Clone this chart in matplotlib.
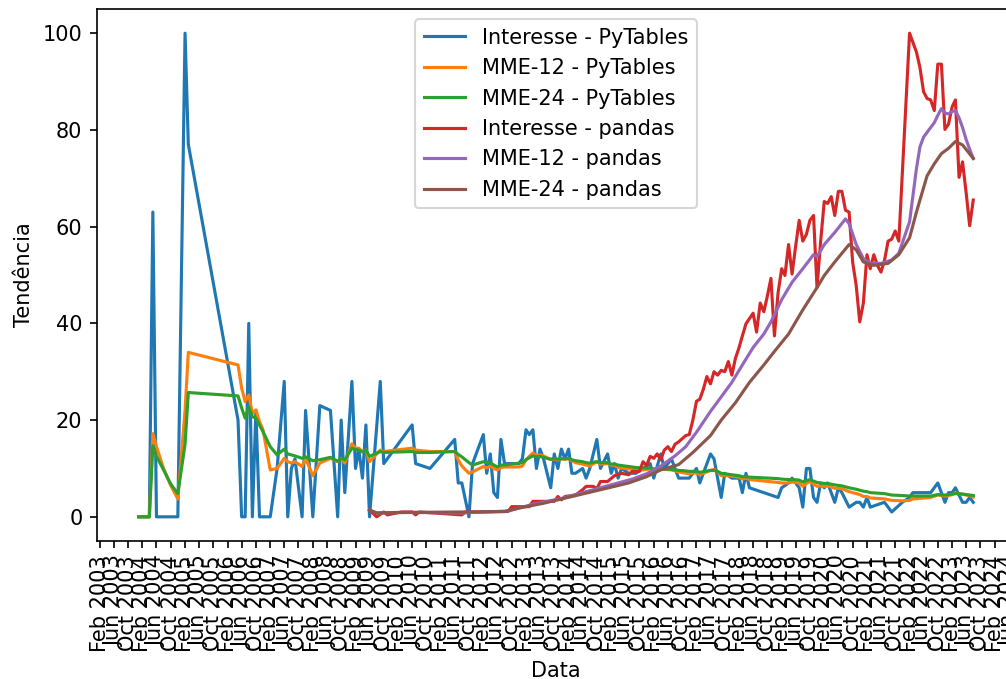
import pandas as pd
import matplotlib
matplotlib.use("Agg")
import matplotlib.pyplot as plt
import matplotlib.dates as mdates

# --- Interesse PyTables (Google Trends) ---
pytables_datas = [
    "2004-01", "2004-02", "2004-03", "2004-04", "2004-05", "2004-06", "2004-07", "2004-08",
    "2004-09", "2004-10", "2004-11", "2004-12",
    "2005-02", "2005-03",
    "2006-05", "2006-06", "2006-07", "2006-08", "2006-09", "2006-10", "2006-11", "2006-12",
    "2007-01", "2007-02", "2007-04", "2007-06", "2007-07", "2007-08", "2007-09", "2007-11", "2007-12",
    "2008-02", "2008-04", "2008-07", "2008-09", "2008-10", "2008-11",
    "2009-01", "2009-02", "2009-03", "2009-04", "2009-05", "2009-06", "2009-09", "2009-10",
    "2010-06", "2010-07", "2010-11",
    "2011-06", "2011-07", "2011-08", "2011-10", "2011-11",
    "2012-02", "2012-03", "2012-04", "2012-05", "2012-06", "2012-07", "2012-08", "2012-12",
    "2013-01", "2013-02", "2013-03", "2013-04", "2013-05", "2013-06", "2013-07", "2013-09",
    "2013-10", "2013-11", "2013-12",
    "2014-01", "2014-02", "2014-03", "2014-04", "2014-06", "2014-07", "2014-08", "2014-10", "2014-11",
    "2015-01", "2015-02", "2015-03", "2015-04", "2015-05", "2015-07", "2015-08", "2015-09", "2015-11",
    "2016-01", "2016-02", "2016-04", "2016-05", "2016-07", "2016-09", "2016-11", "2016-12",
    "2017-02", "2017-03", "2017-06", "2017-07", "2017-08", "2017-09", "2017-10", "2017-12",
    "2018-01", "2018-02", "2018-03", "2018-04", "2018-05",
    "2019-01", "2019-02", "2019-04", "2019-05", "2019-07", "2019-08", "2019-09", "2019-10",
    "2019-11", "2019-12",
    "2020-01", "2020-02", "2020-03", "2020-05", "2020-06", "2020-07", "2020-09", "2020-11", "2020-12",
    "2021-01", "2021-02", "2021-03", "2021-07", "2021-09", "2021-12",
    "2022-02", "2022-03", "2022-08", "2022-10", "2022-12",
    "2023-01", "2023-02", "2023-03", "2023-05", "2023-06", "2023-07", "2023-08",
]
pytables_interesse = [
    0, 0, 0, 0, 63, 0, 0, 0,
    0, 0, 0, 0,
    100, 77,
    20, 0, 0, 40, 0, 22, 0, 0,
    0, 0, 10, 28, 0, 10, 12, 0, 22,
    0, 23, 22, 0, 20, 5,
    28, 10, 14, 8, 19, 0, 28, 11,
    19, 11, 10,
    16, 7, 7, 0, 11,
    17, 9, 13, 5, 4, 16, 11, 11,
    12, 18, 17, 18, 10, 14, 12, 6,
    13, 10, 14,
    12, 14, 9, 9, 10, 8, 10, 16, 10,
    13, 9, 11, 8, 10, 9, 9, 9, 10,
    11, 8, 13, 10, 12, 8, 8, 8,
    10, 7, 13, 12, 8, 4, 9, 8,
    8, 8, 5, 9, 6,
    4, 6, 7, 8, 6, 2, 10, 10,
    4, 3,
    7, 6, 7, 3, 6, 5, 2, 3, 3,
    2, 4, 2, 3, 1, 3,
    4, 5, 5, 7, 3,
    5, 5, 6, 3, 3, 4, 3,
]

# --- MME-12 PyTables ---
pyt_mme12_datas = [
    "2004-01", "2004-04", "2004-05", "2004-06", "2004-08", "2004-10", "2004-12", "2005-02", "2005-03",
    "2006-05", "2006-06", "2006-07", "2006-08", "2006-09", "2006-10", "2006-11", "2006-12",
    "2007-02", "2007-04", "2007-06", "2007-07", "2007-08", "2007-09", "2007-11", "2007-12",
    "2008-02", "2008-04", "2008-07", "2008-09", "2008-10", "2008-11",
    "2009-01", "2009-02", "2009-03", "2009-04", "2009-05", "2009-06", "2009-09", "2009-10",
    "2010-06", "2010-07", "2010-11",
    "2011-06", "2011-07", "2011-08", "2011-10", "2011-11",
    "2012-02", "2012-03", "2012-04", "2012-05", "2012-06", "2012-07", "2012-08", "2012-12",
    "2013-01", "2013-02", "2013-03", "2013-04", "2013-05", "2013-06", "2013-07", "2013-09",
    "2013-10", "2013-11", "2013-12",
    "2014-01", "2014-02", "2014-03", "2014-04", "2014-06", "2014-07", "2014-08", "2014-10", "2014-11",
    "2015-01", "2015-02", "2015-03", "2015-04", "2015-05", "2015-07", "2015-08", "2015-09", "2015-11",
    "2016-01", "2016-02", "2016-04", "2016-05", "2016-07", "2016-09", "2016-11", "2016-12",
    "2017-02", "2017-03", "2017-06", "2017-07", "2017-08", "2017-09", "2017-10", "2017-12",
    "2018-01", "2018-02", "2018-03", "2018-04", "2018-05",
    "2019-01", "2019-02", "2019-04", "2019-05", "2019-07", "2019-08", "2019-09", "2019-10",
    "2019-11", "2019-12",
    "2020-01", "2020-02", "2020-03", "2020-05", "2020-06", "2020-07", "2020-09", "2020-11", "2020-12",
    "2021-01", "2021-02", "2021-03", "2021-07", "2021-09", "2021-12",
    "2022-02", "2022-03", "2022-08", "2022-10", "2022-12",
    "2023-01", "2023-02", "2023-03", "2023-05", "2023-06", "2023-07", "2023-08",
]
pyt_mme12 = [
    0, 0, 17.2, 14.5, 10, 6.5, 3.7, 22, 34,
    31.4, 26.6, 23.8, 25.2, 21.4, 22.1, 19.7, 18,
    9.7, 10, 12.1, 11.4, 11.1, 11.4, 10.4, 12.1,
    8.5, 11.1, 12.1, 11.4, 12.1, 11.1,
    15.1, 14.2, 14.2, 13.5, 13.8, 11.4, 13.8, 13.5,
    14.2, 13.8, 13.5,
    13.5, 11.8, 10.5, 9.0, 9.3,
    10.4, 10.1, 10.5, 10, 9.7, 10.2, 10.3, 10.3,
    10.5, 11.8, 12.5, 13.2, 12.6, 12.8, 12.6, 11.8,
    12, 11.7, 12,
    11.9, 12, 11.6, 11.2, 10.9, 10.7, 10.5, 11.4, 10.9,
    11, 10.7, 10.7, 10.2, 10.1, 9.9, 9.8, 9.7, 9.7,
    9.9, 9.6, 9.9, 9.8, 9.7, 9.3, 9.0, 8.9,
    9.1, 8.7, 9.6, 9.8, 9.3, 8.5, 8.6, 8.4,
    8.3, 8.2, 7.8, 8.0, 7.7,
    7.1, 7.0, 7.0, 7.2, 7.0, 6.3, 6.9, 7.3,
    6.8, 6.3,
    6.4, 6.3, 6.4, 5.9, 5.9, 5.8, 5.2, 4.8, 4.6,
    4.2, 4.2, 3.9, 3.7, 3.4, 3.3,
    3.4, 3.7, 4.0, 4.5, 4.3,
    4.4, 4.6, 4.9, 4.7, 4.5, 4.4, 4.1,
]

# --- MME-24 PyTables ---
pyt_mme24_datas = pyt_mme12_datas
pyt_mme24 = [
    0, 0, 14.7, 12.5, 9.7, 6.8, 4.8, 15, 25.7,
    25, 22.5, 20.4, 22.8, 20.7, 20.4, 19, 17.6,
    14.5, 12.8, 14, 13, 12.8, 12.6, 12.1, 12.4,
    11.6, 11.8, 12.3, 11.5, 12.1, 11.8,
    14.2, 13.9, 13.8, 13.4, 13.8, 12.5, 13.5, 13.3,
    13.5, 13.3, 13.3,
    13.5, 12.9, 12.4, 11.2, 10.7,
    11.4, 11.2, 11.2, 10.7, 10.3, 10.7, 10.7, 11.1,
    11.2, 11.8, 12.2, 12.6, 12.4, 12.5, 12.3, 11.9,
    12.1, 11.9, 12.0,
    12, 12.1, 11.8, 11.6, 11.4, 11.2, 11.1, 11.4, 11.2,
    11.2, 10.9, 10.9, 10.7, 10.6, 10.4, 10.3, 10.2, 10.1,
    10.1, 9.9, 10.0, 9.9, 9.8, 9.6, 9.5, 9.4,
    9.4, 9.2, 9.6, 9.6, 9.4, 9.0, 8.9, 8.7,
    8.6, 8.5, 8.3, 8.3, 8.2,
    7.9, 7.8, 7.7, 7.7, 7.6, 7.2, 7.5, 7.7,
    7.4, 7.1,
    7.0, 6.9, 6.9, 6.6, 6.5, 6.4, 6.0, 5.7, 5.5,
    5.3, 5.2, 5.0, 4.8, 4.5, 4.4,
    4.3, 4.3, 4.3, 4.6, 4.5,
    4.6, 4.7, 4.8, 4.7, 4.6, 4.5, 4.4,
]

# --- Interesse pandas ---
pandas_datas = [
    "2009-06", "2009-08", "2009-10", "2009-11",
    "2010-03", "2010-06", "2010-07", "2010-08",
    "2011-08", "2011-09",
    "2012-01", "2012-09", "2012-10",
    "2013-03", "2013-04", "2013-10", "2013-11", "2013-12",
    "2014-01", "2014-04", "2014-06", "2014-07", "2014-09", "2014-10", "2014-11",
    "2015-01", "2015-03", "2015-05", "2015-07", "2015-08", "2015-10", "2015-11", "2015-12",
    "2016-01", "2016-02", "2016-03", "2016-04", "2016-05", "2016-06", "2016-07", "2016-08",
    "2016-09", "2016-11", "2016-12",
    "2017-01", "2017-02", "2017-03", "2017-04", "2017-05", "2017-06", "2017-07", "2017-08",
    "2017-09", "2017-10", "2017-11", "2017-12",
    "2018-01", "2018-02", "2018-03", "2018-04", "2018-05", "2018-06", "2018-07", "2018-08",
    "2018-09", "2018-10", "2018-11", "2018-12",
    "2019-01", "2019-02", "2019-03", "2019-04", "2019-05", "2019-06", "2019-07", "2019-08",
    "2019-09", "2019-10", "2019-11", "2019-12",
    "2020-01", "2020-02", "2020-03", "2020-04", "2020-05", "2020-06", "2020-07", "2020-08",
    "2020-09", "2020-10", "2020-11", "2020-12",
    "2021-01", "2021-02", "2021-03", "2021-04", "2021-05", "2021-06", "2021-07", "2021-08",
    "2021-09", "2021-10", "2021-11",
    "2022-02", "2022-04", "2022-05", "2022-06", "2022-07", "2022-08", "2022-09", "2022-10",
    "2022-11", "2022-12",
    "2023-01", "2023-02", "2023-03", "2023-04", "2023-05", "2023-06", "2023-07", "2023-08",
]
pandas_interesse = [
    1.4, 0, 1, 0.4,
    1, 1, 0.4, 1,
    0.4, 1,
    1, 1.1, 2.1,
    2.1, 3.2, 3.2, 4.2, 3.5,
    4.2, 4.5, 5.6, 6.3, 6.3, 5.8, 7.3,
    7.3, 8.5, 9, 8.7, 9.4, 9.4, 11.4, 10.6,
    12.5, 12.1, 13, 11.8, 13.8, 14.5, 13.5, 15,
    15.5, 16.8, 17,
    20, 23.9, 24.3, 26.4, 29, 27.5, 30, 29.3,
    30.3, 30, 32.1, 29.3,
    32.8, 35, 37.4, 39.9, 41, 42.1, 38.2, 44.2,
    42.4, 45.6, 49.3, 37.4,
    46.3, 51.3, 49.9, 56.3, 50.2, 56, 61.3, 57,
    58.4, 61.3, 62.3, 47.4,
    57, 65.2, 64.8, 66.2, 62.3, 67.3, 67.3, 63.4,
    63, 52.7, 47.8, 40.3,
    44.2, 54.2, 51.3, 54.2, 52, 50.6, 53, 57,
    57.4, 59.1, 57,
    100, 96.1, 92.9, 87.9, 86.5, 86.2, 84, 93.6,
    93.6, 80.1,
    81.2, 84.8, 86.2, 70.2, 73.4, 67, 60.2, 65.5,
]

# --- MME-12 pandas ---
pd_mme12_datas = [
    "2009-06", "2009-08", "2010-06", "2011-08", "2012-09", "2013-04", "2013-12", "2014-07",
    "2015-03", "2015-08", "2015-12", "2016-04", "2016-08", "2016-11", "2017-02", "2017-06",
    "2017-09", "2017-12", "2018-03", "2018-06", "2018-09", "2018-11", "2019-02", "2019-05",
    "2019-08", "2019-11", "2019-12", "2020-02", "2020-05", "2020-08", "2020-09", "2020-11",
    "2021-01", "2021-03", "2021-06", "2021-09", "2021-11", "2022-02", "2022-04", "2022-05",
    "2022-06", "2022-07", "2022-08", "2022-09", "2022-10", "2022-11", "2022-12", "2023-01",
    "2023-02", "2023-03", "2023-04", "2023-05", "2023-06", "2023-07", "2023-08",
]
pd_mme12 = [
    1.4, 0.8, 0.9, 0.8, 1.2, 2.6, 3.8, 5.2,
    6.8, 7.8, 8.9, 10.5, 12.6, 14.5, 17.5, 21.8,
    24.8, 27.8, 31.4, 35, 37.8, 40.3, 44.9, 48.5,
    51.3, 54.2, 53.8, 56.3, 58.8, 61.6, 60.6, 56.3,
    53.4, 52.4, 52.4, 53.1, 54.5, 61, 72, 76.5,
    78.5, 79.5, 80.5, 81.5, 83, 84.4, 83.5, 83.3,
    83.8, 84, 82.5, 80.5, 78, 76, 74.1,
]

# --- MME-24 pandas ---
pd_mme24_datas = [
    "2009-06", "2009-08", "2010-02", "2011-08", "2012-08", "2012-12", "2013-07", "2014-03",
    "2014-11", "2015-07", "2015-12", "2016-04", "2016-09", "2017-01", "2017-06", "2017-09",
    "2018-01", "2018-05", "2018-09", "2018-12", "2019-04", "2019-08", "2019-12", "2020-02",
    "2020-05", "2020-09", "2020-11", "2021-01", "2021-04", "2021-08", "2021-11", "2022-02",
    "2022-04", "2022-05", "2022-07", "2022-09", "2022-11", "2023-01", "2023-03", "2023-05",
    "2023-08",
]
pd_mme24 = [
    1.4, 0.8, 0.9, 1, 1.1, 1.8, 2.8, 4.2,
    5.6, 7, 8.3, 9.7, 10.8, 13.3, 16.8, 20,
    23.6, 27.8, 31.4, 34.2, 37.8, 42.8, 47.4, 49.9,
    52.7, 56.3, 55.2, 52.7, 52, 52.4, 54.2, 57.7,
    63, 65.5, 70.5, 73, 75.1, 76.2, 77.6, 76.9,
    74.1,
]

DPI = 150
fig = plt.figure(figsize=(1007 / DPI, 679 / DPI), dpi=DPI)
# a área do gráfico passa da borda direita (imagem original cortada)
ax = fig.add_axes([97 / 1007, 1 - 541 / 679, 918 / 1007, 532 / 679])

series = [
    (pytables_datas, pytables_interesse, "Interesse - PyTables"),
    (pyt_mme12_datas, pyt_mme12, "MME-12 - PyTables"),
    (pyt_mme24_datas, pyt_mme24, "MME-24 - PyTables"),
    (pandas_datas, pandas_interesse, "Interesse - pandas"),
    (pd_mme12_datas, pd_mme12, "MME-12 - pandas"),
    (pd_mme24_datas, pd_mme24, "MME-24 - pandas"),
]
for datas, valores, nome in series:
    ax.plot(pd.to_datetime(datas), valores, label=nome)

ax.xaxis.set_major_locator(mdates.MonthLocator(bymonth=(2, 6, 10)))
ax.xaxis.set_major_formatter(mdates.DateFormatter("%b %Y"))
plt.setp(ax.get_xticklabels(), rotation=90)

ax.set_xlabel("Data")
ax.set_ylabel("Tendência")
ax.legend(loc="upper center")

fig.savefig("out.png", dpi=DPI)
